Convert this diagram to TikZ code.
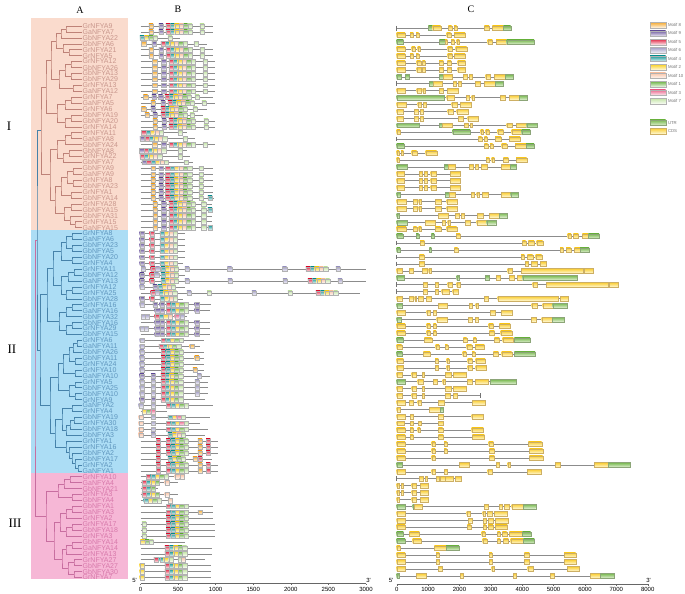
\documentclass[tikz,border=0pt]{standalone}
\usepackage{fontspec}
\setmainfont{Liberation Serif}
\newfontfamily\lsans{Liberation Sans}
\usetikzlibrary{calc}
\definecolor{bgI}{RGB}{250,219,205}
\definecolor{bgII}{RGB}{172,221,245}
\definecolor{bgIII}{RGB}{246,183,214}
\definecolor{txI}{RGB}{200,150,140}
\definecolor{txII}{RGB}{95,150,190}
\definecolor{txIII}{RGB}{215,120,170}
\definecolor{trI}{RGB}{190,130,120}
\definecolor{trII}{RGB}{70,130,170}
\definecolor{trIII}{RGB}{200,110,160}
\definecolor{mo}{RGB}{245,170,50}
\definecolor{mp}{RGB}{110,90,160}
\definecolor{mr}{RGB}{225,40,70}
\definecolor{mv}{RGB}{165,160,200}
\definecolor{mt}{RGB}{30,155,155}
\definecolor{my}{RGB}{250,210,40}
\definecolor{me}{RGB}{250,195,165}
\definecolor{mg}{RGB}{110,180,70}
\definecolor{mk}{RGB}{235,100,140}
\definecolor{ml}{RGB}{195,228,165}
\definecolor{cdsT}{RGB}{250,205,50}
\definecolor{cdsB}{RGB}{255,248,210}
\definecolor{cdsD}{RGB}{205,175,100}
\definecolor{utrT}{RGB}{120,185,80}
\definecolor{utrB}{RGB}{225,240,210}
\definecolor{utrD}{RGB}{140,165,120}
\newcommand\Brow[3]{%
  \pgfmathsetmacro\yy{26+(#1-1)*5.93}%
  \draw[bline] (140.5,\yy) -- (#2,\yy);%
  \edef\blist{#3}%
  \foreach \mc/\xx in \blist{\path[mot=\mc] (\xx-2.1,\yy-2.2) rectangle (\xx+2.1,\yy+2.2);}%
}
\newcommand\Crow[4]{%
  \pgfmathsetmacro\yy{28.3+(#1-1)*6.93}%
  \draw[cline] ({390+#2/3},\yy) -- ({390+#3/3},\yy);%
  \edef\clist{#4}%
  \foreach \ty/\ua/\ub in \clist{%
    \if\ty Y\path[cY] ({390+\ua/3},\yy-2.3) rectangle ({390+\ub/3},\yy+2.3);%
    \else\if\ty G\path[cG] ({390+\ua/3},\yy-2.3) rectangle ({390+\ub/3},\yy+2.3);%
    \else\draw[cT] ({390+\ua/3},\yy-2.3) -- ({390+\ua/3},\yy+2.3);\fi\fi}%
}
\newcommand\tn[5]{%
  \path let \p1=(#3), \p2=(#4) in coordinate (#1) at (#2pt,{0.5*\y1+0.5*\y2});%
  \draw[tree,#5] (#3) -| (#1) |- (#4);%
}
\def\LA{o/151,p/161,r/168,t/172.4,y/176.8,e/181.2,g/185.6,l/190,l/202}
\def\LB{o/154.5,p/163.5,r/171,t/175.4,y/179.8,e/184.2,g/188.6,l/193,l/205}
\def\LC{o/155,p/164,r/171,t/175.4,y/179.8,e/184.2,g/188.6,l/193,l/206}
\def\LD{o/153,p/161,r/167.5,t/171.9,y/176.3,e/180.7,g/185.1,l/189.5,l/201}
\def\LE{o/155,p/163.5,r/171,t/175.4,y/179.8,e/184.2,g/188.6,l/193,l/203.5}
\def\LF{p/141.7,r/151.7,t/162,y/166.4,e/170.8,l/175.2}
\def\LG{p/156.7,p/161.7,r/168.3,t/172.7,y/177.1,g/181.5,l/185.9,p/196.7}
\def\LH{v/141.7,r/163.3,t/167.7,y/172.1,g/176.5,l/180.9}
\def\LI{v/141.7,v/153.3,r/163,t/167.4,y/171.8,g/176.2,l/180.6,v/197}
\def\LJ{r/158.3,r/168.3,t/172.7,y/177.1,g/181.5,l/185.9,o/200,r/208.3}
\def\LK{r/168.3,t/172.7,y/177.1,g/181.5,l/185.9}
\def\LL{r/167,t/171.4,y/175.8,g/180.2,l/184.6}
\begin{document}
\begin{tikzpicture}[x=1pt,y=-1pt,
  bline/.style={draw=black!45,line width=0.5pt},
  cline/.style={draw=black!45,line width=0.55pt},
  mot/.style={top color=m#1,bottom color=m#1!12!white,draw=black!30,line width=0.2pt},
  cY/.style={top color=cdsT,bottom color=cdsB,draw=cdsD,line width=0.25pt},
  cG/.style={top color=utrT,bottom color=utrB,draw=utrD,line width=0.25pt},
  cT/.style={draw=black!55,line width=0.35pt},
  tree/.style={line width=0.5pt},
  glab/.style={anchor=west,inner sep=0pt,font=\lsans\fontsize{7}{7}\selectfont},
  tick/.style={anchor=north,inner sep=0pt,font=\lsans\fontsize{6}{6}\selectfont},
  leg/.style={anchor=west,inner sep=0pt,text=black!55,font=\lsans\fontsize{4.3}{4.3}\selectfont},
  panel/.style={inner sep=0pt,font=\fontsize{10}{10}\selectfont},
  grp/.style={inner sep=0pt,font=\fontsize{13}{13}\selectfont}]
\useasboundingbox (0,0) rectangle (685,594);
\fill[white] (0,0) rectangle (685,594);
% ---------- panel A ----------
\fill[bgI] (31,18) rectangle (128,230);
\fill[bgII] (31,230) rectangle (128,472.7);
\fill[bgIII] (31,472.7) rectangle (128,579);
\foreach \i in {1,...,94}{\coordinate (L\i) at (82,{26+(\i-1)*5.93});}
% group I tree
\tn{a1}{66}{L1}{L2}{trI}
\tn{a2}{61}{a1}{L3}{trI}
\tn{a3}{69}{L5}{L6}{trI}
\tn{a4}{63}{L4}{a3}{trI}
\tn{a5}{56}{a2}{a4}{trI}
\tn{a6}{71}{L7}{L8}{trI}
\tn{a7}{71}{L9}{L10}{trI}
\tn{a8}{65}{a6}{a7}{trI}
\tn{a9}{73}{L11}{L12}{trI}
\tn{a10}{59}{a8}{a9}{trI}
\tn{a11}{51}{a5}{a10}{trI}
\tn{a12}{71}{L13}{L14}{trI}
\tn{a13}{65}{a12}{L15}{trI}
\tn{a14}{71}{L16}{L17}{trI}
\tn{a15}{65}{a14}{L18}{trI}
\tn{a16}{57}{a13}{a15}{trI}
\tn{a17}{46}{a11}{a16}{trI}
\tn{a18}{71}{L19}{L20}{trI}
\tn{a19}{65}{a18}{L21}{trI}
\tn{a20}{69}{L22}{L23}{trI}
\tn{a21}{63}{a20}{L24}{trI}
\tn{a22}{57}{a19}{a21}{trI}
\tn{a23}{73}{L25}{L26}{trI}
\tn{a24}{73}{L27}{L28}{trI}
\tn{a25}{67}{a23}{a24}{trI}
\tn{a26}{71}{L29}{L30}{trI}
\tn{a27}{61}{a25}{a26}{trI}
\tn{a28}{71}{L31}{L32}{trI}
\tn{a29}{75}{L34}{L35}{trI}
\tn{a30}{70}{L33}{a29}{trI}
\tn{a31}{64}{a28}{a30}{trI}
\tn{a32}{55}{a27}{a31}{trI}
\tn{a33}{50}{a22}{a32}{trI}
\tn{a34}{41}{a17}{a33}{trI}
% group II tree
\tn{b1}{72}{L36}{L37}{trII}
\tn{b2}{72}{L38}{L39}{trII}
\tn{b3}{66}{b1}{b2}{trII}
\tn{b4}{72}{L40}{L41}{trII}
\tn{b5}{61}{b3}{b4}{trII}
\tn{b6}{74}{L42}{L43}{trII}
\tn{b7}{68}{b6}{L44}{trII}
\tn{b8}{72}{L45}{L46}{trII}
\tn{b9}{66}{b8}{L47}{trII}
\tn{b10}{61}{b7}{b9}{trII}
\tn{b11}{53}{b5}{b10}{trII}
\tn{b12}{72}{L48}{L49}{trII}
\tn{b13}{66}{b12}{L50}{trII}
\tn{b14}{72}{L51}{L52}{trII}
\tn{b15}{66}{b14}{L53}{trII}
\tn{b16}{59}{b13}{b15}{trII}
\tn{b17}{47}{b11}{b16}{trII}
\tn{b18}{77}{L54}{L55}{trII}
\tn{b19}{73}{b18}{L56}{trII}
\tn{b20}{75}{L57}{L58}{trII}
\tn{b21}{69}{b19}{b20}{trII}
\tn{b22}{75}{L59}{L60}{trII}
\tn{b23}{63}{b21}{b22}{trII}
\tn{b24}{75}{L61}{L62}{trII}
\tn{b25}{75}{L63}{L64}{trII}
\tn{b26}{69}{b24}{b25}{trII}
\tn{b27}{58}{b23}{b26}{trII}
\tn{b28}{72}{L65}{L66}{trII}
\tn{b29}{74}{L67}{L68}{trII}
\tn{b30}{70}{b29}{L69}{trII}
\tn{b31}{66}{b30}{L70}{trII}
\tn{b32}{62}{b28}{b31}{trII}
\tn{b33}{78}{L75}{L76}{trII}
\tn{b34}{75}{L74}{b33}{trII}
\tn{b35}{72}{L73}{b34}{trII}
\tn{b36}{69}{L72}{b35}{trII}
\tn{b37}{66}{L71}{b36}{trII}
\tn{b38}{55}{b32}{b37}{trII}
\tn{b39}{50}{b27}{b38}{trII}
\tn{b40}{40}{b17}{b39}{trII}
% group III tree
\tn{c1}{70}{L77}{L78}{trIII}
\tn{c2}{64}{c1}{L79}{trIII}
\tn{c3}{72}{L80}{L81}{trIII}
\tn{c4}{58}{c2}{c3}{trIII}
\tn{c5}{72}{L82}{L83}{trIII}
\tn{c6}{66}{c5}{L84}{trIII}
\tn{c7}{72}{L85}{L86}{trIII}
\tn{c8}{66}{c7}{L87}{trIII}
\tn{c9}{60}{c6}{c8}{trIII}
\tn{c10}{72}{L88}{L89}{trIII}
\tn{c11}{66}{c10}{L90}{trIII}
\tn{c12}{74}{L91}{L92}{trIII}
\tn{c13}{74}{L93}{L94}{trIII}
\tn{c14}{68}{c12}{c13}{trIII}
\tn{c15}{62}{c11}{c14}{trIII}
\tn{c16}{54}{c9}{c15}{trIII}
\tn{c17}{46}{c4}{c16}{trIII}
\tn{r1}{37}{a34}{b40}{trII}
\tn{r2}{35}{r1}{c17}{trIII}
% labels
\foreach \i/\gname in {1/GrNFYA9,2/GaNFYA7,3/GbNFYA22,4/GbNFYA6,5/GrNFYA21,6/GrNFYA5,7/GrNFYA12,8/GbNFYA26,9/GbNFYA13,10/GbNFYA29,11/GrNFYA13,12/GaNFYA12,13/GrNFYA7,14/GaNFYA5,15/GrNFYA6,16/GbNFYA19,17/GbNFYA20,18/GrNFYA14,19/GrNFYA11,20/GaNFYA8,21/GbNFYA24,22/GbNFYA8,23/GrNFYA22,24/GbNFYA7,25/GbNFYA9,26/GaNFYA9,27/GrNFYA8,28/GbNFYA23,29/GrNFYA1,30/GbNFYA14,31/GrNFYA28,32/GbNFYA15,33/GbNFYA31,34/GrNFYA15,35/GaNFYA15}
  {\node[glab,text=txI] (n\i) at (82.5,{26+(\i-1)*5.93}) {\gname};}
\foreach \i/\gname in {36/GrNFYA8,37/GaNFYA6,38/GbNFYA23,39/GbNFYA5,40/GbNFYA20,41/GrNFYA4,42/GrNFYA11,43/GbNFYA12,44/GaNFYA13,45/GrNFYA12,46/GrNFYA25,47/GbNFYA28,48/GrNFYA16,49/GaNFYA16,50/GbNFYA32,51/GbNFYA16,52/GrNFYA29,53/GbNFYA15,54/GrNFYA6,55/GaNFYA11,56/GbNFYA26,57/GbNFYA11,58/GrNFYA24,59/GrNFYA10,60/GaNFYA10,61/GrNFYA5,62/GbNFYA25,63/GbNFYA10,64/GrNFYA9,65/GaNFYA2,66/GrNFYA4,67/GbNFYA19,68/GrNFYA30,69/GbNFYA18,70/GbNFYA3,71/GrNFYA1,72/GrNFYA16,73/GbNFYA2,74/GbNFYA17,75/GrNFYA2,76/GaNFYA1}
  {\node[glab,text=txII] (n\i) at (82.5,{26+(\i-1)*5.93}) {\gname};}
\foreach \i/\gname in {77/GrNFYA10,78/GaNFYA4,79/GbNFYA21,80/GrNFYA3,81/GbNFYA4,82/GbNFYA1,83/GaNFYA3,84/GrNFYA2,85/GrNFYA17,86/GbNFYA18,87/GrNFYA3,88/GbNFYA14,89/GaNFYA14,90/GrNFYA13,91/GrNFYA27,92/GbNFYA27,93/GbNFYA30,94/GrNFYA7}
  {\node[glab,text=txIII] (n\i) at (82.5,{26+(\i-1)*5.93}) {\gname};}
\node[grp] (gI) at (9,126) {I};
\node[grp] (gII) at (12,349) {II};
\node[grp] (gIII) at (15,523) {III};
\node[panel] (pA) at (80,10) {A};
\node[panel] (pB) at (178,9.5) {B};
\node[panel] (pC) at (471,9.5) {C};
% ---------- panel B ----------
\Brow{1}{213}{\LA}
\Brow{2}{213}{\LA}
\Brow{3}{180}{t/142,y/146.4,g/150.8,l/155.2,l/170}
\Brow{4}{207}{o/143.5,p/154,r/163,t/167.4,y/171.8,e/176.2,g/180.6,l/185,l/196}
\Brow{5}{213}{\LA}
\Brow{6}{213}{\LA}
\foreach \i in {7,...,12}{\Brow{\i}{215}{\LB}}
\Brow{13}{213}{o/145.5,p/154,p/160.5,r/167,t/171.4,y/175.8,e/180.2,g/184.6,l/189,l/197}
\Brow{14}{215}{o/153,p/163,r/170,t/174.4,y/178.8,e/183.2,g/187.6,l/192,l/204}
\Brow{15}{207}{o/143.5,p/153,r/163,t/167.4,y/171.8,e/176.2,g/180.6,l/185,l/195}
\Brow{16}{203}{o/147,p/155,r/163,t/167.4,y/171.8,e/176.2,g/180.6,l/185,l/192}
\Brow{17}{215}{\LC}
\Brow{18}{215}{\LC}
\Brow{19}{187}{r/143.5,t/147.9,y/152.3,e/156.7,l/161.1,l/180}
\Brow{20}{195}{p/142,r/147,t/151.4,y/155.8,e/160.2,l/164.6,l/185}
\Brow{21}{215}{\LB}
\Brow{22}{187}{p/141.5,r/146,t/150.4,y/154.8,e/159.2,l/163.6,l/180}
\Brow{23}{190}{r/142,t/146.4,y/150.8,e/155.2,l/159.6,l/180}
\Brow{24}{193}{p/144,r/148.5,t/152.9,y/157.3,e/161.7,l/166.1,l/186}
\foreach \i in {25,...,29}{\Brow{\i}{213}{\LD}}
\Brow{30}{214}{\LD,t/210}
\Brow{31}{212}{\LE}
\Brow{32}{212}{\LE,t/210}
\Brow{33}{212}{\LE}
\Brow{34}{212}{\LE}
\Brow{35}{212}{\LE,t/210}
\foreach \i in {36,...,40}{\Brow{\i}{185}{\LF}}
\Brow{41}{183}{\LF}
\Brow{42}{366}{v/143.3,r/152.7,v/157.5,t/163,y/167.4,e/171.8,l/176.2,v/187,v/229.5,v/284.5,r/308,t/312.4,y/316.8,e/321.2,l/325.6,v/338}
\Brow{43}{185}{p/141.7,r/151.7,v/156.5,t/163,y/167.4,e/171.8,l/176.2}
\Brow{44}{366}{p/141.7,r/151.7,t/163,y/167.4,e/171.8,l/176.2,v/187,v/230,v/285,r/310,t/314.4,y/318.8,e/323.2,l/327.6,v/340}
\Brow{45}{185}{v/141.7,p/155,t/160,y/164.4,e/168.8,l/173.2}
\Brow{46}{360}{r/152.7,v/157,t/161.4,y/165.8,e/170.2,l/174.6,v/189,l/209.3,v/254,l/290,r/318,t/322.4,y/326.8,e/331.2,l/335.6}
\Brow{47}{183}{\LF}
\Brow{48}{211}{v/141.7,p/155,p/161.7,r/168.3,t/172.7,y/177.1,g/181.5,l/185.9,p/196.7}
\Brow{49}{210}{\LG}
\Brow{50}{187}{v/143.3,v/146.7,r/156.7,t/161.1,y/165.5,e/169.9,k/176.7,v/181.7}
\Brow{51}{210}{\LG}
\Brow{52}{210}{v/141.7,v/145.7,\LG}
\Brow{53}{210}{\LG}
\Brow{54}{204}{\LH}
\Brow{55}{200}{v/141.7,r/161,t/165.4,y/169.8,g/174.2,l/178.6,o/191.7}
\Brow{56}{204}{\LH}
\Brow{57}{204}{\LH,o/196.7}
\Brow{58}{204}{\LH}
\Brow{59}{204}{\LH,o/195}
\Brow{60}{210}{p/141.7,p/153.3,r/163,t/167.4,y/171.8,g/176.2,l/180.6,v/199.3}
\foreach \i in {61,62,63}{\Brow{\i}{208}{\LI}}
\Brow{64}{205}{p/141.7,p/153.3,r/163,t/167.4,y/171.8,g/176.2,l/180.6}
\Brow{65}{213}{v/140.7,v/153.3,r/168.3,t/172.7,y/177.1,g/181.5,l/185.9}
\Brow{66}{167}{y/144,g/148.4,k/152.8}
\Brow{67}{210}{e/140.7,v/153.3,t/170,y/174.4,k/178.8,l/183.2}
\Brow{68}{200}{e/140.7,v/153.3,r/168.3,t/172.7,y/177.1,k/181.5,l/185.9}
\Brow{69}{208}{e/140.7,v/153.3,r/168.3,t/172.7,y/177.1,g/181.5,l/185.9}
\Brow{70}{205}{e/140.7,v/153.3,t/170,y/174.4,e/178.8,l/183.2}
\foreach \i in {71,72,73,75,76}{\Brow{\i}{218}{\LJ}}
\Brow{74}{212}{r/158.3,t/170,y/174.4,g/178.8,l/183.2,o/195,r/200}
\Brow{77}{185}{r/148.3,t/152.7,y/157.1,g/161.5,l/165.9,e/176.7,e/181.7}
\Brow{78}{178}{r/144,t/148.4,y/152.8,g/157.2,e/166.7}
\Brow{79}{158}{r/144,t/148.4,g/152.8}
\Brow{80}{178}{r/144,t/148.4,y/152.8,g/157.2,e/166.7}
\Brow{81}{173}{t/145.7,y/150.1,g/154.5,l/158.9,e/170}
\Brow{82}{213}{\LK}
\Brow{83}{213}{\LK,o/200}
\Brow{84}{213}{\LK}
\foreach \i in {85,86,87}{\Brow{\i}{215}{l/144,\LK}}
\Brow{88}{185}{y/142.5,g/146.9,l/151.3}
\Brow{89}{212}{\LL}
\Brow{90}{212}{\LL}
\Brow{91}{205}{r/156,t/161.7,y/165.7,l/170.7,l/180,e/183.3}
\foreach \i in {92,93,94}{\Brow{\i}{211}{y/141.7,\LL}}
% B axis
\draw[black!60,line width=0.5pt] (140.5,583.5) -- (366,583.5);
\foreach \k/\v in {0/0,1/500,2/1000,3/1500,4/2000,5/2500,6/3000}{
  \draw[black!60,line width=0.4pt] ({140.5+\k*37.58},583.5) -- ({140.5+\k*37.58},585.3);
  \node[tick] (bt\k) at ({140.5+\k*37.58},587.3) {\v};}
\node[tick,anchor=center] (b5p) at (134.5,580) {5'};
\node[tick,anchor=center] (b3p) at (368.5,580) {3'};
% ---------- panel C ----------
\Crow{1}{20}{362}{T/20/21,G/115/128,Y/128/152,Y/175/185,Y/192/200,Y/283/297,Y/307/340,G/340/362}
\Crow{2}{20}{225}{Y/20/45,Y/60/70,Y/78/86,Y/170/182,Y/192/225}
\Crow{3}{20}{432}{G/20/40,G/148/165,Y/165/172,Y/183/193,Y/200/208,Y/293/307,Y/318/350,G/350/432}
\Crow{4}{20}{230}{Y/20/45,Y/65/75,Y/83/91,Y/173/187,Y/197/230}
\Crow{5}{20}{225}{Y/20/45,Y/60/70,Y/78/86,Y/173/187,Y/193/225}
\Crow{6}{20}{226}{Y/20/45,Y/80/92,Y/97/105,Y/147/160,Y/172/183,Y/203/226}
\Crow{7}{20}{226}{Y/20/45,Y/80/92,Y/97/105,Y/147/160,Y/172/183,Y/203/226}
\Crow{8}{20}{370}{G/20/32,G/45/57,G/148/160,Y/160/185,Y/220/230,Y/238/246,Y/287/300,Y/313/345,G/345/370}
\Crow{9}{20}{340}{T/20/21,G/118/130,Y/130/155,Y/190/198,Y/205/214,Y/255/270,Y/283/315,G/315/340}
\Crow{10}{20}{205}{Y/20/45,Y/80/92,Y/98/106,Y/147/158,Y/172/205}
\Crow{11}{20}{412}{G/20/163,Y/170/193,Y/228/238,Y/245/253,Y/330/345,Y/357/387,G/387/412}
\Crow{12}{20}{243}{Y/20/48,Y/83/93,Y/100/108,Y/185/200,Y/210/243}
\Crow{13}{20}{233}{Y/20/38,Y/73/83,Y/90/98,Y/173/188,Y/200/233}
\Crow{14}{20}{265}{Y/20/38,Y/73/83,Y/90/98,Y/205/220,Y/233/265}
\Crow{15}{20}{442}{G/20/87,G/147/157,Y/157/185,Y/222/233,Y/240/246,Y/350/365,Y/378/410,G/410/442}
\Crow{16}{20}{420}{Y/20/30,G/188/240,Y/272/280,Y/287/297,Y/323/340,Y/365/395,G/395/420}
\Crow{17}{20}{390}{T/20/21,Y/265/275,Y/283/291,Y/315/333,Y/357/390}
\Crow{18}{20}{432}{G/20/42,Y/283/293,Y/300/308,Y/335/350,Y/375/408,G/408/432}
\Crow{19}{20}{140}{Y/20/27,Y/33/40,Y/65/80,Y/107/140}
\Crow{20}{20}{410}{Y/20/27,Y/288/298,Y/305/313,Y/340/355,Y/378/410}
\Crow{21}{20}{378}{G/20/50,G/163/175,Y/175/195,Y/238/248,Y/255/263,Y/273/290,Y/333/360,G/360/378}
\Crow{22}{20}{210}{Y/20/43,Y/87/97,Y/103/111,Y/122/138,Y/180/210}
\Crow{23}{20}{210}{Y/20/43,Y/87/97,Y/103/111,Y/122/138,Y/180/210}
\Crow{24}{20}{210}{Y/20/43,Y/87/97,Y/103/111,Y/122/138,Y/180/210}
\Crow{25}{20}{385}{G/20/30,G/165/178,Y/178/195,Y/243/253,Y/260/266,Y/277/293,Y/333/362,G/362/385}
\Crow{26}{20}{200}{Y/20/48,Y/70/80,Y/86/94,Y/135/152,Y/170/200}
\Crow{27}{20}{200}{Y/20/48,Y/70/80,Y/86/94,Y/135/152,Y/170/200}
\Crow{28}{20}{352}{G/20/28,Y/145/175,Y/196/206,Y/213/221,Y/262/278,Y/298/328,G/328/352}
\Crow{29}{20}{317}{G/20/52,Y/105/135,Y/157/165,Y/173/181,Y/225/241,Y/260/290,G/290/317}
\Crow{30}{20}{200}{Y/20/48,Y/70/80,Y/86/94,Y/135/152,Y/170/200}
\Crow{31}{20}{627}{G/20/38,G/78/86,G/124/132,Y/198/210,Y/533/543,Y/550/565,Y/577/595,G/595/627}
\Crow{32}{20}{458}{T/20/21,Y/90/103,Y/397/407,Y/415/432,Y/440/458}
\Crow{33}{20}{597}{G/20/30,G/118/124,Y/193/203,Y/510/520,Y/528/542,Y/553/570,G/570/597}
\Crow{34}{20}{455}{T/20/21,Y/88/102,Y/393/403,Y/412/428,Y/437/455}
\Crow{35}{20}{467}{T/20/21,Y/88/102,Y/405/415,Y/423/440,Y/450/467}
\Crow{36}{20}{608}{Y/20/37,Y/58/68,Y/96/110,Y/116/124,Y/353/366,Y/393/578,Y/582/608}
\Crow{37}{20}{560}{G/20/42,G/200/206,G/285/297,Y/318/330,Y/358/372,Y/382/398,G/398/560}
\Crow{38}{20}{683}{T/20/21,Y/100/110,Y/135/145,Y/173/187,Y/200/210,Y/428/442,Y/468/655,Y/657/683}
\Crow{39}{20}{203}{T/20/21,Y/100/110,Y/135/145,Y/155/178,Y/188/203}
\Crow{40}{20}{535}{Y/20/35,Y/58/68,Y/74/79,Y/85/100,Y/108/123,Y/283/295,Y/323/505,Y/510/535}
\Crow{41}{20}{532}{G/20/35,Y/145/172,Y/238/246,Y/257/265,Y/425/440,Y/458/488,G/488/532}
\Crow{42}{20}{365}{Y/20/45,Y/110/120,Y/130/138,Y/300/315,Y/333/365}
\Crow{43}{20}{522}{G/20/32,Y/140/170,Y/235/245,Y/255/263,Y/423/437,Y/455/487,G/487/522}
\Crow{44}{20}{360}{Y/20/45,Y/110/120,Y/130/138,Y/296/310,Y/328/360}
\Crow{45}{20}{365}{Y/20/45,Y/110/120,Y/130/138,Y/298/313,Y/332/365}
\Crow{46}{20}{420}{G/20/40,Y/103/125,Y/220/230,Y/250/258,Y/313/328,Y/338/370,G/373/420}
\Crow{47}{20}{283}{Y/20/35,Y/137/147,Y/165/173,Y/230/245,Y/255/283}
\Crow{48}{20}{435}{G/20/37,Y/100/120,Y/218/228,Y/246/254,Y/310/325,Y/335/365,G/373/435}
\Crow{49}{20}{285}{Y/20/40,Y/135/145,Y/170/177,Y/233/247,Y/257/285}
\Crow{50}{20}{287}{Y/20/40,Y/135/145,Y/170/177,Y/233/247,Y/257/287}
\Crow{51}{20}{227}{Y/20/37,Y/65/77,Y/97/103,Y/165/182,Y/190/227}
\Crow{52}{20}{377}{G/20/45,Y/83/100,Y/130/140,Y/158/165,Y/232/245,Y/255/293,G/300/377}
\Crow{53}{20}{227}{Y/20/37,Y/65/77,Y/97/103,Y/165/182,Y/190/227}
\Crow{54}{20}{272}{Y/20/35,Y/65/77,Y/97/103,Y/165/180,Y/190/202,T/272/273}
\Crow{55}{20}{285}{Y/20/45,Y/58/70,Y/83/92,Y/145/162,Y/247/285}
\Crow{56}{20}{160}{Y/20/30,Y/118/150,G/150/160}
\Crow{57}{20}{280}{Y/20/45,Y/60/70,Y/145/158,Y/245/280}
\Crow{58}{20}{160}{Y/20/42,Y/60/70,Y/85/92,Y/145/160}
\Crow{59}{20}{280}{Y/20/45,Y/60/70,Y/83/90,Y/145/158,Y/245/280}
\Crow{60}{20}{283}{Y/20/45,Y/60/70,Y/145/160,Y/247/283}
\Crow{61}{20}{455}{Y/20/45,Y/125/135,Y/162/170,Y/296/310,Y/415/455}
\Crow{62}{20}{458}{Y/20/45,Y/125/135,Y/162/170,Y/298/313,Y/418/458}
\Crow{63}{20}{458}{Y/20/45,Y/125/135,Y/298/313,Y/418/458}
\Crow{64}{20}{720}{G/20/35,Y/208/236,Y/318/328,Y/353/360,Y/495/510,Y/613/655,G/655/720}
\Crow{65}{20}{452}{Y/20/45,Y/125/135,Y/162/170,Y/293/307,Y/412/452}
\Crow{66}{20}{212}{T/20/21,Y/88/98,Y/105/112,Y/138/146,Y/150/165,Y/165/190,Y/195/212}
\Crow{67}{20}{115}{Y/20/27,Y/33/40,Y/65/78,Y/90/115}
\Crow{68}{20}{115}{Y/20/27,Y/33/40,Y/65/78,Y/90/115}
\Crow{69}{20}{115}{Y/20/26,Y/65/78,Y/90/115}
\Crow{70}{20}{437}{G/20/45,G/68/72,Y/72/95,Y/283/293,Y/328/337,Y/342/357,Y/365/400,G/400/437}
\Crow{71}{20}{350}{Y/20/45,Y/230/240,Y/278/285,Y/292/307,Y/313/350}
\Crow{72}{20}{355}{Y/20/45,Y/235/245,Y/280/288,Y/294/309,Y/315/355}
\Crow{73}{20}{352}{Y/20/45,Y/232/242,Y/280/287,Y/294/309,Y/315/352}
\Crow{74}{20}{422}{G/20/40,Y/58/88,Y/275/285,Y/322/330,Y/337/350,Y/358/397,G/397/422}
\Crow{75}{20}{433}{G/20/45,Y/68/93,Y/278/290,Y/322/330,Y/340/355,Y/362/400,G/400/433}
\Crow{76}{20}{207}{Y/20/30,Y/133/168,G/168/207}
\Crow{77}{20}{557}{Y/20/45,Y/138/148,Y/297/306,Y/403/418,Y/522/557}
\Crow{78}{20}{557}{Y/20/45,Y/138/148,Y/297/306,Y/403/418,Y/522/557}
\Crow{79}{20}{567}{Y/20/45,Y/145/157,Y/305/313,Y/413/428,Y/532/567}
\Crow{80}{20}{673}{G/20/27,Y/78/107,Y/210/220,Y/370/377,Y/480/493,Y/600/630,G/630/673}
% C axis
\draw[black!60,line width=0.5pt] (396.7,584) -- (647.7,584);
\foreach \k in {0,...,8}{
  \draw[black!60,line width=0.4pt] ({396.7+\k*31.375},584) -- ({396.7+\k*31.375},585.8);
  \pgfmathtruncatemacro\kv{\k*1000}
  \node[tick] (ct\k) at ({396.7+\k*31.375},587.5) {\kv};}
\node[tick,anchor=center] (c5p) at (391,580.5) {5'};
\node[tick,anchor=center] (c3p) at (648.5,580.5) {3'};
% legend
\foreach \k/\lc/\lt in {0/o/Motif 8,1/p/Motif 9,2/r/Motif 5,3/v/Motif 6,4/t/Motif 4,5/y/Motif 2,6/e/Motif 10,7/g/Motif 1,8/k/Motif 3,9/l/Motif 7}{
  \pgfmathsetmacro\ly{25+\k*8.44}
  \path[mot=\lc] (650,\ly-2.8) rectangle (665.7,\ly+2.8);
  \node[leg] (lg\k) at (667.8,\ly) {\lt};}
\path[cG] (650,122.7-2.8) rectangle (665.7,122.7+2.8);
\node[leg] (lgU) at (667.8,122.7) {UTR};
\path[cY] (650,131-2.8) rectangle (665.7,131+2.8);
\node[leg] (lgC) at (667.8,131) {CDS};
\end{tikzpicture}
\end{document}
